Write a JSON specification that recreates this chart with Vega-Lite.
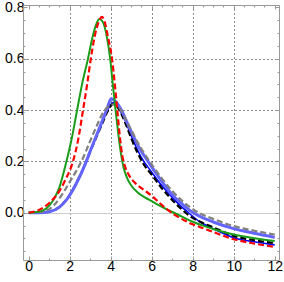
{
  "$schema": "https://vega.github.io/schema/vega-lite/v6.json",
  "width": 256,
  "height": 255,
  "autosize": "none",
  "padding": {"left": 23, "top": 5, "right": 5, "bottom": 22},
  "config": {"view": {"stroke": null}, "font": "Liberation Sans"},
  "data": {"values": [
    {"s":"lb","x":0,"y":0},{"s":"lb","x":0.5,"y":0.0},{"s":"lb","x":1.0,"y":0.004},{"s":"lb","x":1.5,"y":0.022},{"s":"lb","x":1.84,"y":0.05},{"s":"lb","x":2.0,"y":0.068},{"s":"lb","x":2.3,"y":0.11},{"s":"lb","x":2.81,"y":0.2},{"s":"lb","x":3.0,"y":0.24},{"s":"lb","x":3.3,"y":0.3},{"s":"lb","x":3.6,"y":0.36},{"s":"lb","x":3.82,"y":0.405},{"s":"lb","x":4.02,"y":0.444},{"s":"lb","x":4.25,"y":0.432},{"s":"lb","x":4.52,"y":0.4},{"s":"lb","x":4.75,"y":0.36},{"s":"lb","x":5.09,"y":0.3},{"s":"lb","x":5.41,"y":0.25},{"s":"lb","x":5.82,"y":0.2},{"s":"lb","x":6.2,"y":0.155},{"s":"lb","x":6.6,"y":0.11},{"s":"lb","x":7.0,"y":0.07},{"s":"lb","x":7.5,"y":0.033},{"s":"lb","x":8.03,"y":0.0},{"s":"lb","x":8.5,"y":-0.02},{"s":"lb","x":9,"y":-0.036},{"s":"lb","x":10,"y":-0.062},{"s":"lb","x":11,"y":-0.08},{"s":"lb","x":12,"y":-0.096},
    {"s":"db","x":0,"y":0},{"s":"db","x":0.5,"y":0.0},{"s":"db","x":1.0,"y":0.004},{"s":"db","x":1.5,"y":0.023},{"s":"db","x":1.84,"y":0.052},{"s":"db","x":2.0,"y":0.07},{"s":"db","x":2.3,"y":0.112},{"s":"db","x":2.81,"y":0.2},{"s":"db","x":3.0,"y":0.24},{"s":"db","x":3.3,"y":0.298},{"s":"db","x":3.6,"y":0.355},{"s":"db","x":3.85,"y":0.4},{"s":"db","x":4.1,"y":0.428},{"s":"db","x":4.3,"y":0.42},{"s":"db","x":4.5,"y":0.392},{"s":"db","x":4.76,"y":0.35},{"s":"db","x":5.0,"y":0.3},{"s":"db","x":5.5,"y":0.215},{"s":"db","x":6.0,"y":0.158},{"s":"db","x":6.5,"y":0.105},{"s":"db","x":7.0,"y":0.06},{"s":"db","x":7.5,"y":0.02},{"s":"db","x":7.8,"y":0.0},{"s":"db","x":8.34,"y":-0.035},{"s":"db","x":9,"y":-0.062},{"s":"db","x":10,"y":-0.097},{"s":"db","x":11,"y":-0.113},{"s":"db","x":12,"y":-0.125},
    {"s":"gd","x":0,"y":0},{"s":"gd","x":0.5,"y":0.002},{"s":"gd","x":1.0,"y":0.014},{"s":"gd","x":1.35,"y":0.04},{"s":"gd","x":1.7,"y":0.08},{"s":"gd","x":2.0,"y":0.12},{"s":"gd","x":2.3,"y":0.16},{"s":"gd","x":2.57,"y":0.2},{"s":"gd","x":3.0,"y":0.28},{"s":"gd","x":3.3,"y":0.335},{"s":"gd","x":3.63,"y":0.39},{"s":"gd","x":3.9,"y":0.415},{"s":"gd","x":4.15,"y":0.422},{"s":"gd","x":4.4,"y":0.41},{"s":"gd","x":4.7,"y":0.37},{"s":"gd","x":5.0,"y":0.322},{"s":"gd","x":5.4,"y":0.262},{"s":"gd","x":6.0,"y":0.188},{"s":"gd","x":6.5,"y":0.133},{"s":"gd","x":7.0,"y":0.085},{"s":"gd","x":7.5,"y":0.045},{"s":"gd","x":8.2,"y":0.004},{"s":"gd","x":9,"y":-0.024},{"s":"gd","x":10,"y":-0.052},{"s":"gd","x":11,"y":-0.07},{"s":"gd","x":12,"y":-0.085},
    {"s":"bk","x":0,"y":0},{"s":"bk","x":0.5,"y":0.0},{"s":"bk","x":1.0,"y":0.004},{"s":"bk","x":1.5,"y":0.023},{"s":"bk","x":1.84,"y":0.052},{"s":"bk","x":2.0,"y":0.07},{"s":"bk","x":2.3,"y":0.112},{"s":"bk","x":2.81,"y":0.2},{"s":"bk","x":3.0,"y":0.238},{"s":"bk","x":3.3,"y":0.295},{"s":"bk","x":3.6,"y":0.35},{"s":"bk","x":3.85,"y":0.395},{"s":"bk","x":4.1,"y":0.423},{"s":"bk","x":4.3,"y":0.415},{"s":"bk","x":4.5,"y":0.388},{"s":"bk","x":4.76,"y":0.34},{"s":"bk","x":5.0,"y":0.29},{"s":"bk","x":5.3,"y":0.235},{"s":"bk","x":5.6,"y":0.19},{"s":"bk","x":6.0,"y":0.148},{"s":"bk","x":6.5,"y":0.095},{"s":"bk","x":7.0,"y":0.05},{"s":"bk","x":7.6,"y":0.004},{"s":"bk","x":8.0,"y":-0.02},{"s":"bk","x":8.5,"y":-0.04},{"s":"bk","x":9,"y":-0.057},{"s":"bk","x":10,"y":-0.09},{"s":"bk","x":11,"y":-0.107},{"s":"bk","x":12,"y":-0.118},
    {"s":"g","x":0,"y":0},{"s":"g","x":0.5,"y":0.004},{"s":"g","x":1.0,"y":0.028},{"s":"g","x":1.2,"y":0.05},{"s":"g","x":1.5,"y":0.1},{"s":"g","x":1.84,"y":0.2},{"s":"g","x":2.1,"y":0.29},{"s":"g","x":2.36,"y":0.4},{"s":"g","x":2.6,"y":0.5},{"s":"g","x":2.89,"y":0.6},{"s":"g","x":3.1,"y":0.68},{"s":"g","x":3.3,"y":0.735},{"s":"g","x":3.45,"y":0.754},{"s":"g","x":3.6,"y":0.745},{"s":"g","x":3.8,"y":0.69},{"s":"g","x":3.98,"y":0.595},{"s":"g","x":4.1,"y":0.5},{"s":"g","x":4.25,"y":0.39},{"s":"g","x":4.38,"y":0.3},{"s":"g","x":4.5,"y":0.23},{"s":"g","x":4.62,"y":0.178},{"s":"g","x":4.8,"y":0.135},{"s":"g","x":5.0,"y":0.106},{"s":"g","x":5.3,"y":0.08},{"s":"g","x":5.66,"y":0.06},{"s":"g","x":6.0,"y":0.045},{"s":"g","x":6.5,"y":0.023},{"s":"g","x":7.0,"y":0.003},{"s":"g","x":7.5,"y":-0.016},{"s":"g","x":8.0,"y":-0.035},{"s":"g","x":8.5,"y":-0.05},{"s":"g","x":9,"y":-0.063},{"s":"g","x":10,"y":-0.085},{"s":"g","x":11,"y":-0.099},{"s":"g","x":12,"y":-0.11},
    {"s":"r","x":0,"y":0},{"s":"r","x":0.5,"y":0.011},{"s":"r","x":1.0,"y":0.038},{"s":"r","x":1.5,"y":0.085},{"s":"r","x":1.8,"y":0.13},{"s":"r","x":2.16,"y":0.2},{"s":"r","x":2.4,"y":0.28},{"s":"r","x":2.65,"y":0.4},{"s":"r","x":2.85,"y":0.5},{"s":"r","x":3.02,"y":0.595},{"s":"r","x":3.2,"y":0.68},{"s":"r","x":3.4,"y":0.74},{"s":"r","x":3.57,"y":0.763},{"s":"r","x":3.7,"y":0.745},{"s":"r","x":3.85,"y":0.69},{"s":"r","x":4.07,"y":0.595},{"s":"r","x":4.2,"y":0.5},{"s":"r","x":4.32,"y":0.4},{"s":"r","x":4.44,"y":0.3},{"s":"r","x":4.56,"y":0.225},{"s":"r","x":4.7,"y":0.18},{"s":"r","x":4.9,"y":0.145},{"s":"r","x":5.2,"y":0.115},{"s":"r","x":5.6,"y":0.09},{"s":"r","x":6.0,"y":0.066},{"s":"r","x":6.4,"y":0.037},{"s":"r","x":6.8,"y":0.01},{"s":"r","x":7.2,"y":-0.012},{"s":"r","x":7.6,"y":-0.03},{"s":"r","x":8.0,"y":-0.045},{"s":"r","x":8.5,"y":-0.06},{"s":"r","x":9,"y":-0.075},{"s":"r","x":10,"y":-0.103},{"s":"r","x":11,"y":-0.12},{"s":"r","x":12,"y":-0.133}
  ]},
  "resolve": {"axis": {"x": "independent", "y": "independent"}},
  "layer": [
    {
      "encoding": {
        "x": {"field": "x", "type": "quantitative",
          "scale": {"domain": [-0.28, 12.21], "nice": false, "zero": false},
          "axis": {"orient": "bottom", "title": null,
            "values": [0,0.5,1,1.5,2,2.5,3,3.5,4,4.5,5,5.5,6,6.5,7,7.5,8,8.5,9,9.5,10,10.5,11,11.5,12],
            "labelExpr": "datum.value % 2 == 0 ? datum.label : ''",
            "format": "d",
            "labelFontSize": 14, "labelColor": "#000000", "labelPadding": 3, "labelFlush": false, "labelOverlap": false,
            "tickColor": "#999999", "domainColor": "#999999", "domainWidth": 1,
            "tickSize": {"condition": {"test": "datum.value % 2 == 0", "value": -4}, "value": -2},
            "grid": true, "gridColor": "#000000", "gridDash": [1, 3], "gridWidth": 1,
            "gridOpacity": {"condition": {"test": "datum.value % 2 == 0 && datum.value > 0 && datum.value < 12", "value": 0.9}, "value": 0}
          }},
        "y": {"field": "y", "type": "quantitative",
          "scale": {"domain": [-0.184, 0.809], "nice": false, "zero": false},
          "axis": {"orient": "left", "title": null,
            "values": [-0.15,-0.1,-0.05,0,0.05,0.1,0.15,0.2,0.25,0.3,0.35,0.4,0.45,0.5,0.55,0.6,0.65,0.7,0.75,0.8],
            "labelExpr": "(datum.value == 0 || datum.value == 0.2 || datum.value == 0.4 || datum.value == 0.6 || datum.value == 0.8) ? format(datum.value, '.1f') : ''",
            "labelFontSize": 14, "labelColor": "#000000", "labelPadding": 3, "labelFlush": false, "labelOverlap": false,
            "tickColor": "#999999", "domainColor": "#999999", "domainWidth": 1,
            "tickSize": {"condition": {"test": "datum.value == 0 || datum.value == 0.2 || datum.value == 0.4 || datum.value == 0.6 || datum.value == 0.8", "value": -4}, "value": -2},
            "grid": true,
            "gridColor": {"condition": {"test": "datum.value == 0", "value": "#c8c8c8"}, "value": "#000000"},
            "gridDash": {"condition": {"test": "datum.value == 0", "value": []}, "value": [1, 3]},
            "gridOpacity": {"condition": {"test": "datum.value == 0 || datum.value == 0.2 || datum.value == 0.4 || datum.value == 0.6", "value": 0.9}, "value": 0}
          }}
      },
      "layer": [
        {"transform": [{"filter": "datum.s == 'db'"}], "mark": {"type": "line", "interpolate": "monotone", "color": "#0000ff", "strokeWidth": 1.6}},
        {"transform": [{"filter": "datum.s == 'bk'"}], "mark": {"type": "line", "interpolate": "monotone", "color": "#000000", "strokeWidth": 2.2, "strokeDash": [6, 3]}},
        {"transform": [{"filter": "datum.s == 'lb'"}], "mark": {"type": "line", "interpolate": "monotone", "color": "#6464ff", "strokeWidth": 3}},
        {"transform": [{"filter": "datum.s == 'gd'"}], "mark": {"type": "line", "interpolate": "monotone", "color": "#808080", "strokeWidth": 2.2, "strokeDash": [6, 3]}},
        {"transform": [{"filter": "datum.s == 'g'"}], "mark": {"type": "line", "interpolate": "monotone", "color": "#1a9e1a", "strokeWidth": 2}},
        {"transform": [{"filter": "datum.s == 'r'"}], "mark": {"type": "line", "interpolate": "monotone", "color": "#ff0000", "strokeWidth": 2.2, "strokeDash": [6, 3]}}
      ]
    },
    {
      "transform": [{"filter": "datum.s == 'r'"}],
      "mark": {"type": "line", "strokeOpacity": 0},
      "encoding": {
        "x": {"field": "x", "type": "quantitative",
          "scale": {"domain": [-0.28, 12.21], "nice": false, "zero": false},
          "axis": {"orient": "top", "title": null, "labels": false, "grid": false,
            "values": [0,0.5,1,1.5,2,2.5,3,3.5,4,4.5,5,5.5,6,6.5,7,7.5,8,8.5,9,9.5,10,10.5,11,11.5,12],
            "tickColor": "#999999", "domainColor": "#999999",
            "tickSize": {"condition": {"test": "datum.value % 2 == 0", "value": -4}, "value": -2}}},
        "y": {"field": "y", "type": "quantitative",
          "scale": {"domain": [-0.184, 0.809], "nice": false, "zero": false},
          "axis": {"orient": "right", "title": null, "labels": false, "grid": false,
            "values": [-0.15,-0.1,-0.05,0,0.05,0.1,0.15,0.2,0.25,0.3,0.35,0.4,0.45,0.5,0.55,0.6,0.65,0.7,0.75,0.8],
            "tickColor": "#999999", "domainColor": "#999999",
            "tickSize": {"condition": {"test": "datum.value == 0 || datum.value == 0.2 || datum.value == 0.4 || datum.value == 0.6 || datum.value == 0.8", "value": -4}, "value": -2}}}
      }
    }
  ]
}
